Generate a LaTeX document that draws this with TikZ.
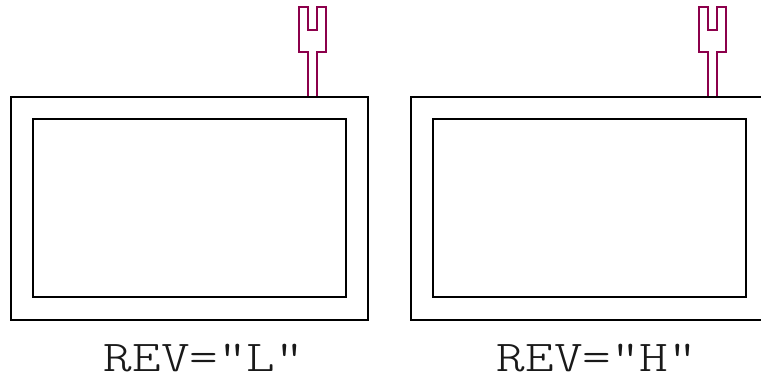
\documentclass[tikz,border=0pt]{standalone}
\usepackage{fontspec}
\newfontfamily\monof{Latin Modern Mono Light}[FakeStretch=1.24]
\definecolor{forkred}{RGB}{140,0,75}
\tikzset{
  outerbox/.style={draw=black,line width=2pt},
  innerbox/.style={draw=black,line width=2pt},
  forkline/.style={draw=forkred,line width=1.6pt,line join=miter},
  revtext/.style={font=\monof\fontsize{44}{44}\selectfont,anchor=base,inner sep=0pt,text depth=0pt,text=black!90},
  forkpic/.pic={
    \draw[forkline] (9,90) -- (9,45) -- (0,45) -- (0,0) -- (9,0) -- (9,23) -- (18,23)
      -- (18,0) -- (27,0) -- (27,45) -- (18,45) -- (18,90);
  }
}
\begin{document}
\begin{tikzpicture}[x=1pt,y=-1pt]
\useasboundingbox (0,0) rectangle (761,378);
% left unit
\pic (forkL) at (299,7) {forkpic};
\draw[outerbox] (11,97) rectangle (368,320);
\draw[innerbox] (33,119) rectangle (346,297);
\node[revtext] (revL) at (204,371) {REV="L"};
% right unit
\pic (forkR) at (699,7) {forkpic};
\begin{scope}
\clip (0,0) rectangle (761,378);
\draw[outerbox] (411,97) rectangle (775,320);
\end{scope}
\draw[innerbox] (433,119) rectangle (746,297);
\node[revtext] (revH) at (597,371) {REV="H"};
\end{tikzpicture}
\end{document}
